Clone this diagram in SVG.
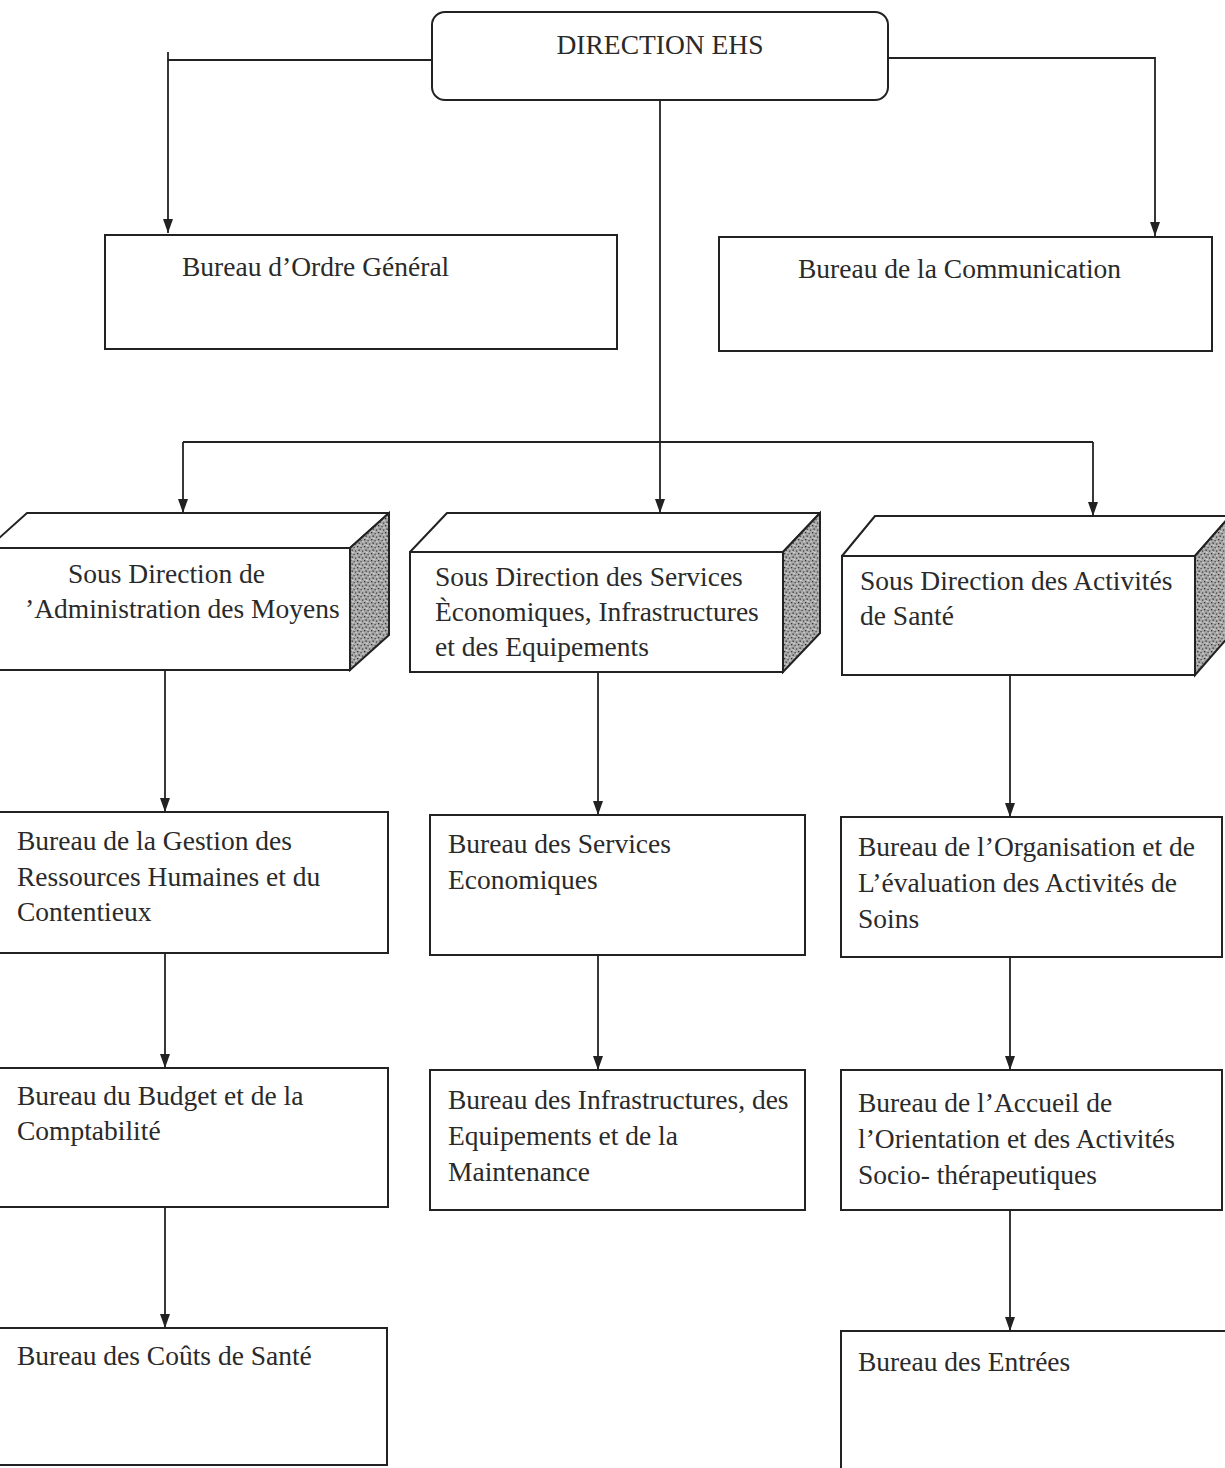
<svg xmlns="http://www.w3.org/2000/svg" width="1225" height="1468" viewBox="0 0 1225 1468">
<style>
  .bg { fill: #ffffff; }
  .box { fill: #ffffff; stroke: #222; stroke-width: 2; }
  .side { fill: url(#stipple); stroke: #222; stroke-width: 2; }
  .top { fill: #ffffff; stroke: #222; stroke-width: 2; stroke-linejoin: round; }
  .conn { fill: none; stroke: #222; stroke-width: 1.8; }
  text { font-family: "Liberation Serif", "DejaVu Serif", serif; font-size: 27.5px; fill: #2a2a2a; }
</style>
<defs>
  <marker id="arrow" viewBox="0 0 14 10" refX="14" refY="5" markerWidth="14" markerHeight="10" markerUnits="userSpaceOnUse" orient="auto">
    <path d="M0,0 L14,5 L0,10 z" fill="#222"/>
  </marker>
  <pattern id="stipple" width="7" height="7" patternUnits="userSpaceOnUse">
    <rect width="7" height="7" fill="#a8a8a8"/>
    <rect x="0" y="0" width="1.3" height="1.3" fill="#333"/>
    <rect x="3.5" y="1" width="1.2" height="1.2" fill="#444"/>
    <rect x="1.5" y="3.5" width="1.3" height="1.3" fill="#2a2a2a"/>
    <rect x="5" y="4.5" width="1.2" height="1.2" fill="#3a3a3a"/>
    <rect x="2.5" y="6" width="1" height="1" fill="#eee"/>
    <rect x="5.5" y="2.2" width="1" height="1" fill="#eee"/>
    <rect x="0.5" y="5.2" width="0.9" height="0.9" fill="#ddd"/>
  </pattern>
</defs>
<rect class="bg" x="0" y="0" width="1225" height="1468"/>

<g id="connectors">
  <path class="conn" d="M432,60 L168,60 L168,233" marker-end="url(#arrow)"/>
  <path class="conn" d="M168,60 L168,52"/>
  <path class="conn" d="M888,58 L1155,58 L1155,236" marker-end="url(#arrow)"/>
  <path class="conn" d="M660,100 L660,513" marker-end="url(#arrow)"/>
  <path class="conn" d="M183,442 L1093,442"/>
  <path class="conn" d="M183,442 L183,513" marker-end="url(#arrow)"/>
  <path class="conn" d="M1093,442 L1093,516" marker-end="url(#arrow)"/>
  <path class="conn" d="M165,670 L165,812" marker-end="url(#arrow)"/>
  <path class="conn" d="M598,672 L598,815" marker-end="url(#arrow)"/>
  <path class="conn" d="M1010,675 L1010,817" marker-end="url(#arrow)"/>
  <path class="conn" d="M165,953 L165,1068" marker-end="url(#arrow)"/>
  <path class="conn" d="M598,955 L598,1070" marker-end="url(#arrow)"/>
  <path class="conn" d="M1010,957 L1010,1070" marker-end="url(#arrow)"/>
  <path class="conn" d="M165,1207 L165,1328" marker-end="url(#arrow)"/>
  <path class="conn" d="M1010,1210 L1010,1331" marker-end="url(#arrow)"/>
</g>

<g id="direction-ehs">
  <rect class="box" x="432" y="12" width="456" height="88" rx="13" ry="13"/>
  <text x="660" y="54" text-anchor="middle">DIRECTION EHS</text>
</g>

<g id="bureau-ordre-general">
  <rect class="box" x="105" y="235" width="512" height="114"/>
  <text x="182" y="276">Bureau d’Ordre Général</text>
</g>

<g id="bureau-communication">
  <rect class="box" x="719" y="237" width="493" height="114"/>
  <text x="798" y="278">Bureau de la Communication</text>
</g>

<g id="sd-administration-moyens">
  <polygon class="top" points="-12,548 27,513 389,513 350,548"/>
  <polygon class="side" points="350,548 389,513 389,635 350,670"/>
  <rect class="box" x="-12" y="548" width="362" height="122"/>
  <text x="68" y="583">Sous Direction de</text>
  <text x="25" y="618">’Administration des Moyens</text>
</g>

<g id="sd-services-economiques">
  <polygon class="top" points="410,552 447,513 820,513 783,552"/>
  <polygon class="side" points="783,552 820,513 820,633 783,672"/>
  <rect class="box" x="410" y="552" width="373" height="120"/>
  <text x="435" y="586">Sous Direction  des Services</text>
  <text x="435" y="621">Èconomiques, Infrastructures</text>
  <text x="435" y="656">et des Equipements</text>
</g>

<g id="sd-activites-sante">
  <polygon class="top" points="842,556 875,516 1230,516 1195,556"/>
  <polygon class="side" points="1195,556 1230,516 1230,635 1195,675"/>
  <rect class="box" x="842" y="556" width="353" height="119"/>
  <text x="860" y="590">Sous Direction des Activités</text>
  <text x="860" y="625">de Santé</text>
</g>

<g id="bureau-grh-contentieux">
  <rect class="box" x="-10" y="812" width="398" height="141"/>
  <text x="17" y="850">Bureau de la Gestion des</text>
  <text x="17" y="886">Ressources Humaines et du</text>
  <text x="17" y="921">Contentieux</text>
</g>

<g id="bureau-services-economiques">
  <rect class="box" x="430" y="815" width="375" height="140"/>
  <text x="448" y="853">Bureau des Services</text>
  <text x="448" y="889">Economiques</text>
</g>

<g id="bureau-organisation-soins">
  <rect class="box" x="841" y="817" width="381" height="140"/>
  <text x="858" y="856">Bureau de l’Organisation et de</text>
  <text x="858" y="892">L’évaluation des Activités de</text>
  <text x="858" y="928">Soins</text>
</g>

<g id="bureau-budget-comptabilite">
  <rect class="box" x="-10" y="1068" width="398" height="139"/>
  <text x="17" y="1105">Bureau du Budget et de la</text>
  <text x="17" y="1140">Comptabilité</text>
</g>

<g id="bureau-infrastructures">
  <rect class="box" x="430" y="1070" width="375" height="140"/>
  <text x="448" y="1109">Bureau des Infrastructures, des</text>
  <text x="448" y="1145">Equipements et de la</text>
  <text x="448" y="1181">Maintenance</text>
</g>

<g id="bureau-accueil-orientation">
  <rect class="box" x="841" y="1070" width="381" height="140"/>
  <text x="858" y="1112">Bureau de l’Accueil de</text>
  <text x="858" y="1148">l’Orientation et des Activités</text>
  <text x="858" y="1184">Socio- thérapeutiques</text>
</g>

<g id="bureau-couts-sante">
  <rect class="box" x="-10" y="1328" width="397" height="137"/>
  <text x="17" y="1365">Bureau des Coûts de Santé</text>
</g>

<g id="bureau-entrees">
  <rect class="box" x="841" y="1331" width="400" height="150"/>
  <text x="858" y="1371">Bureau des Entrées</text>
</g>
</svg>
